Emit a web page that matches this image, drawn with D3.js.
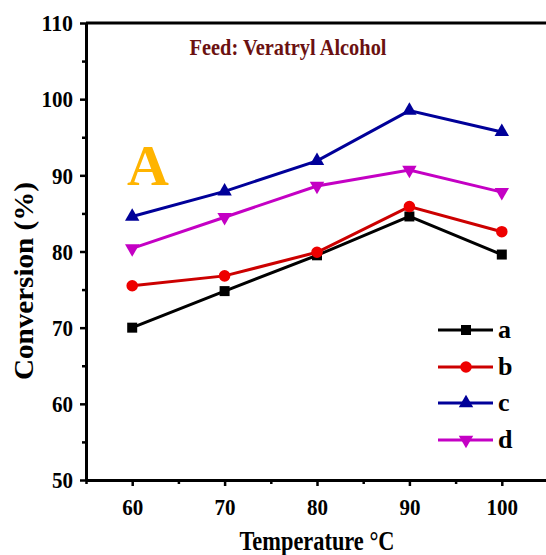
<!DOCTYPE html>
<html>
<head>
<meta charset="UTF-8">
<script src="https://d3js.org/d3.v7.min.js"></script>
<style>
  body { margin: 0; background: #fff; }
  svg { display: block; font-family: "Liberation Serif", "Times New Roman", serif; font-weight: bold; }
</style>
</head>
<body>
<svg width="546" height="555"></svg>
<script>
const temps = [60, 70, 80, 90, 100];
const seriesNames = ["a", "b", "c", "d"];
const seriesA = [70.0, 74.8, 79.5, 84.6, 79.6];
const seriesB = [75.5, 76.8, 79.9, 85.9, 82.6];
const seriesC = [84.6, 87.9, 91.9, 98.5, 95.7];
const seriesD = [80.4, 84.5, 88.6, 90.7, 87.8];
const yTicks = [50, 60, 70, 80, 90, 100, 110];
const xTicks = [60, 70, 80, 90, 100];

const series = [
  { name: "a", values: seriesA, color: "#000000", fill: "#000000", marker: "square" },
  { name: "b", values: seriesB, color: "#cc0000", fill: "#ee0000", marker: "circle" },
  { name: "c", values: seriesC, color: "#000099", fill: "#000099", marker: "up" },
  { name: "d", values: seriesD, color: "#c400c4", fill: "#c400c4", marker: "down" }
];

const svg = d3.select("svg");
const plotLeft = 86, plotTop = 23, plotBottom = 480;

// the original figure is cut off on the right, so the x range runs past the svg
const x = d3.scaleLinear().domain([55, 110]).range([plotLeft, plotLeft + 55 * 9.24]);
const y = d3.scaleLinear().domain([50, 110]).range([plotBottom, plotTop]);

// top frame line
svg.append("line")
  .attr("x1", plotLeft).attr("x2", x(110))
  .attr("y1", plotTop).attr("y2", plotTop)
  .attr("stroke", "#000").attr("stroke-width", 3);

// y axis
const yAxis = svg.append("g")
  .attr("transform", `translate(${plotLeft},0)`)
  .call(d3.axisLeft(y).tickValues(yTicks).tickSize(6).tickPadding(7).tickSizeOuter(0));
yAxis.select(".domain").attr("stroke-width", 3);
yAxis.selectAll(".tick line").attr("stroke-width", 2.5);
yAxis.selectAll("text")
  .style("font-size", "24px").style("font-family", "Liberation Serif").style("font-weight", "bold")
  .attr("fill", "#000")
  .attr("textLength", d => String(d).length * 10.5)
  .attr("lengthAdjust", "spacingAndGlyphs");
svg.append("g")
  .attr("transform", `translate(${plotLeft},0)`)
  .call(d3.axisLeft(y).tickValues([55, 65, 75, 85, 95, 105]).tickSize(4).tickFormat(""))
  .call(g => g.select(".domain").remove())
  .selectAll(".tick line").attr("stroke-width", 2.5);

// x axis
const xAxis = svg.append("g")
  .attr("transform", `translate(0,${plotBottom})`)
  .call(d3.axisBottom(x).tickValues(xTicks).tickSize(6).tickPadding(12).tickSizeOuter(0));
xAxis.select(".domain").attr("stroke-width", 3);
xAxis.selectAll(".tick line").attr("stroke-width", 2.5);
xAxis.selectAll("text")
  .style("font-size", "24px").style("font-family", "Liberation Serif").style("font-weight", "bold")
  .attr("fill", "#000")
  .attr("textLength", d => String(d).length * 10.5)
  .attr("lengthAdjust", "spacingAndGlyphs");
svg.append("g")
  .attr("transform", `translate(0,${plotBottom})`)
  .call(d3.axisBottom(x).tickValues([55, 65, 75, 85, 95, 105]).tickSize(4).tickFormat(""))
  .call(g => g.select(".domain").remove())
  .selectAll(".tick line").attr("stroke-width", 2.5);

// axis titles
svg.append("text")
  .attr("x", 317).attr("y", 550)
  .attr("text-anchor", "middle")
  .attr("textLength", 155).attr("lengthAdjust", "spacingAndGlyphs")
  .style("font-size", "28px")
  .text("Temperature °C");
svg.append("text")
  .attr("transform", "translate(33,281) rotate(-90)")
  .attr("text-anchor", "middle")
  .attr("textLength", 198).attr("lengthAdjust", "spacingAndGlyphs")
  .style("font-size", "28px")
  .text("Conversion (%)");

// annotations
svg.append("text")
  .attr("x", 288).attr("y", 55)
  .attr("text-anchor", "middle")
  .attr("fill", "#6b1111")
  .attr("textLength", 197).attr("lengthAdjust", "spacingAndGlyphs")
  .style("font-size", "23px")
  .text("Feed: Veratryl Alcohol");
svg.append("text")
  .attr("x", 148).attr("y", 185)
  .attr("text-anchor", "middle")
  .attr("fill", "#ffb400")
  .style("font-size", "58px")
  .text("A");

const symbolFor = {
  square: d3.symbol().type(d3.symbolSquare).size(100),
  circle: d3.symbol().type(d3.symbolCircle).size(105),
  up: d3.symbol().type(d3.symbolTriangle).size(90),
  down: d3.symbol().type(d3.symbolTriangle).size(90)
};

const line = d3.line().x((d, i) => x(temps[i])).y(d => y(d));

series.forEach(s => {
  svg.append("path")
    .attr("d", line(s.values))
    .attr("fill", "none")
    .attr("stroke", s.color)
    .attr("stroke-width", 3);
  svg.selectAll(null)
    .data(s.values)
    .join("path")
    .attr("d", symbolFor[s.marker]())
    .attr("transform", (d, i) => `translate(${x(temps[i])},${y(d)})${s.marker === "down" ? " rotate(180)" : ""}`)
    .attr("fill", s.fill);
});

// legend
const legendY = [330, 367, 403, 440];
series.forEach((s, i) => {
  const g = svg.append("g").attr("transform", `translate(438,${legendY[i]})`);
  g.append("line").attr("x1", 0).attr("x2", 55).attr("y1", 0).attr("y2", 0)
    .attr("stroke", s.color).attr("stroke-width", 3);
  g.append("path").attr("d", symbolFor[s.marker]())
    .attr("transform", `translate(28,0)${s.marker === "down" ? " rotate(180)" : ""}`)
    .attr("fill", s.fill);
  g.append("text").attr("x", 60).attr("y", 8)
    .style("font-size", "26px")
    .text(seriesNames[i]);
});
</script>
</body>
</html>
